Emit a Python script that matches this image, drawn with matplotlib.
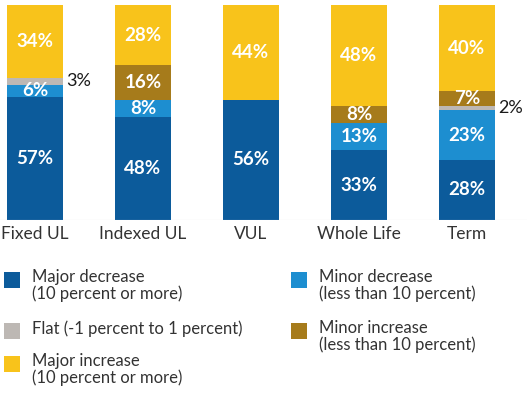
import numpy as np
import matplotlib.pyplot as plt
from matplotlib.patches import Rectangle

plt.rcParams['font.family'] = ['Lato', 'DejaVu Sans']

categories = ['Fixed UL', 'Indexed UL', 'VUL', 'Whole Life', 'Term']

# stacked from the bottom up
series_names = [
    'Major decrease\n(10 percent or more)',
    'Minor decrease\n(less than 10 percent)',
    'Flat (-1 percent to 1 percent)',
    'Minor increase\n(less than 10 percent)',
    'Major increase\n(10 percent or more)',
]
major_decrease = [57, 48, 56, 33, 28]
minor_decrease = [6, 8, 0, 13, 23]
flat = [3, 0, 0, 0, 2]
minor_increase = [0, 16, 0, 8, 7]
major_increase = [34, 28, 44, 48, 40]

colors = ['#0C5B9B', '#1D8ED0', '#BDB8B4', '#A67B1B', '#F8C31B']

values = np.array([major_decrease, minor_decrease, flat, minor_increase, major_increase], dtype=float)
totals = values.sum(axis=0)
shares = values / totals * 100  # bars fill the full height

fig = plt.figure(figsize=(5.27, 3.97), dpi=100)
ax = fig.add_axes([0, 1 - 220 / 397, 1, 215 / 397])

x = np.arange(len(categories))
bottom = np.zeros(len(categories))
for i in range(len(values)):
    ax.bar(x, shares[i], 0.52, bottom=bottom, color=colors[i], linewidth=0)
    for j in range(len(categories)):
        v = values[i][j]
        if v == 0:
            continue
        mid = bottom[j] + shares[i][j] / 2
        if v < 5:
            # thin slice, label sits beside the bar
            ax.text(x[j] + 0.29, mid, f'{v:.0f}%', color='#1a1a1a', fontsize=13,
                    ha='left', va='center')
        else:
            ax.text(x[j], mid, f'{v:.0f}%', color='white', fontsize=13.5,
                    fontweight='bold', ha='center', va='center')
    bottom += shares[i]

ax.axhline(0, color='#d8d8d8', lw=0.8)
ax.set_xlim(-35 / 108, (527 - 35) / 108)
ax.set_ylim(0, 100)
ax.set_xticks(x)
ax.set_xticklabels(categories, fontsize=12.5, color='#333333')
ax.tick_params(axis='x', length=0, pad=4)
ax.set_yticks([])
for s in ax.spines.values():
    s.set_visible(False)

# legend laid out by hand: two columns, square lined up with the first line
W, H = 527, 397
legend_pos = [(4, 272), (291, 272), (4, 323), (291, 323), (4, 356)]
legend_order = [0, 1, 2, 3, 4]
for k, (px, py) in zip(legend_order, legend_pos):
    fig.patches.append(Rectangle((px / W, 1 - (py + 16) / H), 16 / W, 16 / H,
                                 transform=fig.transFigure, color=colors[k], lw=0))
    fig.text((px + 28) / W, 1 - (py - 3) / H, series_names[k], fontsize=12,
             color='#333333', ha='left', va='top', linespacing=1.05)

fig.savefig('out.png', dpi=100)
